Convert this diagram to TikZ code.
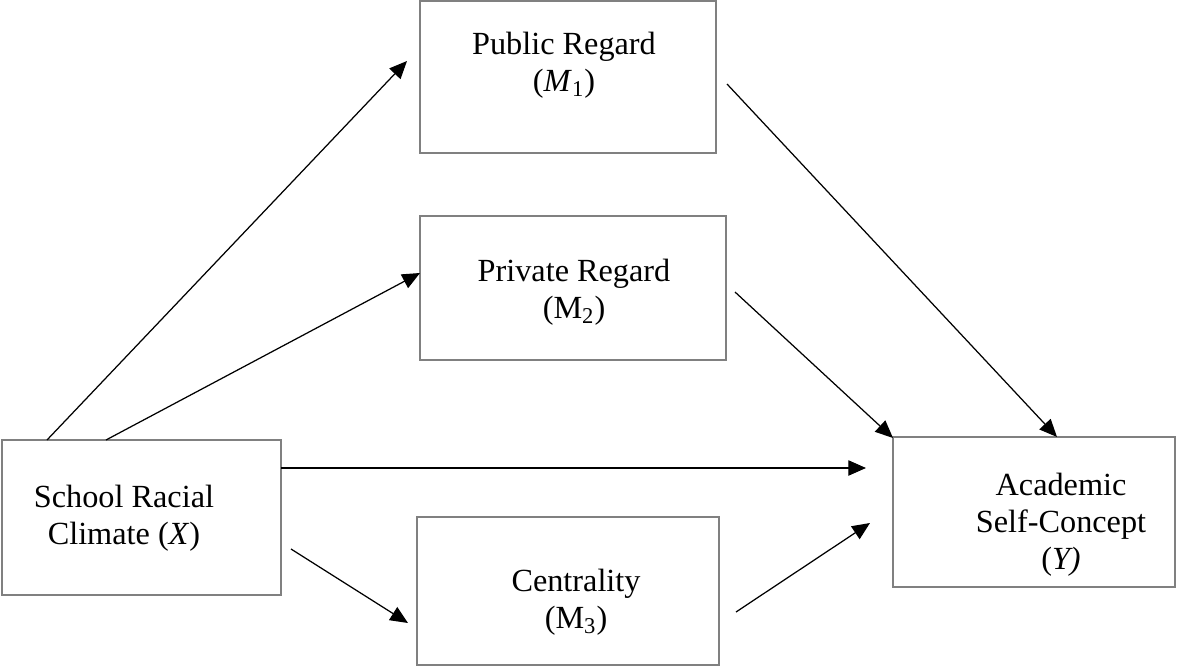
\documentclass[tikz,border=0pt]{standalone}
\usepackage{fontspec}
\setmainfont{Liberation Serif}
\usetikzlibrary{arrows.meta}
\newlength\px
\setlength\px{0.017cm}
\tikzset{
  box/.style={draw=gray, line width=1pt, rectangle, inner sep=0pt},
  txt/.style={align=center, font=\fontsize{15.6}{18}\selectfont},
  arr/.style={-{Triangle[length=3mm,width=2.6mm]}, line width=0.6pt},
}
\begin{document}
\begin{tikzpicture}[x=\px, y=-\px]
    \useasboundingbox (0,0) rectangle (1177,671);
    % boxes
    \node[box, minimum width=296\px, minimum height=152\px] (m1) at (568,77) {};
    \node[box, minimum width=306\px, minimum height=144\px] (m2) at (573,288) {};
    \node[box, minimum width=279\px, minimum height=155\px] (x) at (141.5,517.5) {};
    \node[box, minimum width=302\px, minimum height=148\px] (m3) at (568,591) {};
    \node[box, minimum width=282\px, minimum height=150\px] (y) at (1034,512) {};
    % texts
    \node[txt] (m1t) at (564,65) {Public Regard\\(\textit{M}\textsubscript{1})};
    \node[txt] (m2t) at (574,292) {Private Regard\\(M\textsubscript{2})};
    \node[txt] (xt) at (124,518) {School Racial\\Climate (\textit{X})};
    \node[txt] (m3t) at (576,602) {Centrality\\(M\textsubscript{3})};
    \node[txt] (yt) at (1061,525) {Academic\\Self-Concept\\(\textit{Y)}};
    % arrow ends
    \coordinate (xm1) at (47,440);
    \coordinate (m1in) at (407,61);
    \coordinate (xm2) at (106,440);
    \coordinate (m2in) at (420,273);
    \coordinate (xy) at (281,468);
    \coordinate (yinx) at (866,468);
    \coordinate (xm3) at (291,549);
    \coordinate (m3in) at (408,623);
    \coordinate (m3y) at (736,612);
    \coordinate (yinm3) at (870,523);
    \coordinate (m2y) at (735,292);
    \coordinate (yinm2) at (893,438);
    \coordinate (m1y) at (727,84);
    \coordinate (yinm1) at (1057,437);
    % paths
    \draw[arr] (xm1) -- (m1in);
    \draw[arr] (xm2) -- (m2in);
    \draw[arr] (xy) -- (yinx);
    \draw[arr] (xm3) -- (m3in);
    \draw[arr] (m3y) -- (yinm3);
    \draw[arr] (m2y) -- (yinm2);
    \draw[arr] (m1y) -- (yinm1);
\end{tikzpicture}
\end{document}
